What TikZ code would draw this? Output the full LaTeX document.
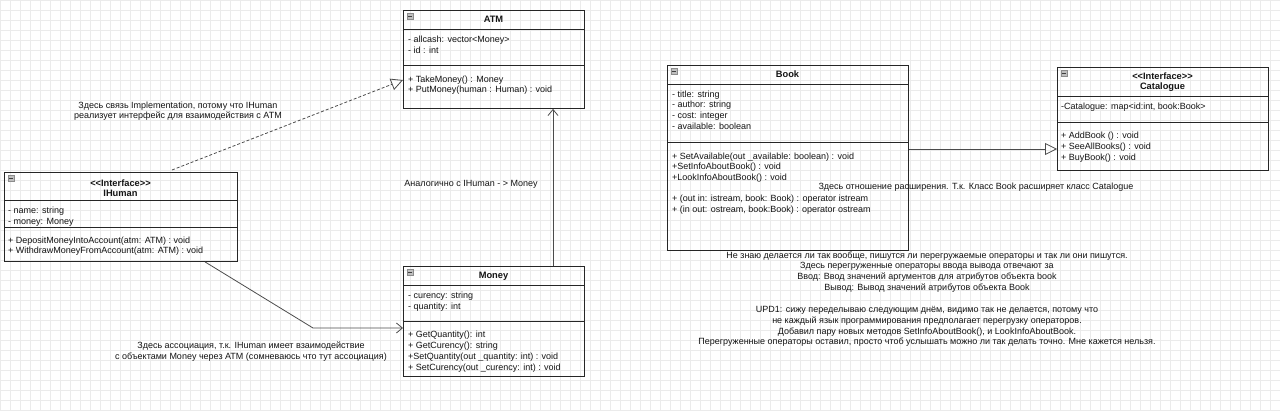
\documentclass[tikz,border=0pt]{standalone}
\usepackage{fontspec}
\setmainfont{Liberation Sans}
\usetikzlibrary{calc,arrows.meta}
\begin{document}
\begin{tikzpicture}[x=1pt,y=-1pt,
  every node/.style={font=\fontsize{9pt}{10.5pt}\selectfont, text=black!92},
  box/.style={draw=black!85, line width=0.9pt, inner sep=0pt, anchor=north west},
  sepline/.style={draw=black!85, line width=0.9pt},
  txt/.style={anchor=base west, inner sep=0pt},
  ttl/.style={anchor=base, inner sep=0pt, font=\fontsize{9.3pt}{10.5pt}\selectfont\bfseries},
  note/.style={anchor=base, inner sep=0pt},
  conn/.style={draw=black!70, line width=0.8pt},
  tri/.style={-{Triangle[open,length=12pt,width=12pt]}},
  barb/.style={-{Straight Barb[length=6pt,width=10pt]}},
]
\useasboundingbox (0,0) rectangle (1280,411);
\fill[white] (0,0) rectangle (1280,411);
\draw[black!8, line width=0.5pt] (0,0) grid[step=10pt] (1280,411);

\newcommand\umlbox[7]{%
  \node[box, minimum width=#4pt, minimum height=#5pt] (#1) at (#2,#3) {};
  \draw[sepline] ($(#1.north west)+(0,#6)$) -- ($(#1.north east)+(0,#6)$);
  \draw[sepline] ($(#1.north west)+(0,#7)$) -- ($(#1.north east)+(0,#7)$);
  \draw[fill=black!25, draw=black!45, line width=0.4pt] ($(#1.north west)+(4,3.5)$) rectangle ($(#1.north west)+(10,9.5)$);
  \draw[black!75, line width=0.7pt] ($(#1.north west)+(5,6.5)$) -- ($(#1.north west)+(9,6.5)$);
}

% IHuman
\umlbox{ihuman}{4}{172}{233}{89}{28}{55}
\node[ttl] (ih1) at (120.5,186.5) {<{}<Interface>{}>};
\node[ttl] (ih2) at (120.5,196.5) {IHuman};
\node[txt] (ih3) at (8,214) {- name: string};
\node[txt] (ih4) at (8,224.5) {- money: Money};
\node[txt] (ih5) at (8,243.5) {+ DepositMoneyIntoAccount(atm: ATM) : void};
\node[txt] (ih6) at (8,254) {+ WithdrawMoneyFromAccount(atm: ATM) : void};

% ATM
\umlbox{atm}{403}{10}{181}{98}{19}{55}
\node[ttl] (a1) at (493.5,23) {ATM};
\node[txt] (a2) at (408,43) {- allcash: vector<Money>};
\node[txt] (a3) at (408,53.5) {- id : int};
\node[txt] (a4) at (408,82.5) {+ TakeMoney() : Money};
\node[txt] (a5) at (408,93) {+ PutMoney(human : Human) : void};

% Money
\umlbox{money}{403}{266}{181}{110}{19}{55}
\node[ttl] (m1) at (493.5,279) {Money};
\node[txt] (m2) at (408,298.5) {- curency: string};
\node[txt] (m3) at (408,309.5) {- quantity: int};
\node[txt] (m4) at (408,337.5) {+ GetQuantity(): int};
\node[txt] (m5) at (408,348.5) {+ GetCurency(): string};
\node[txt] (m6) at (408,360) {+SetQuantity(out \_quantity: int) : void};
\node[txt] (m7) at (408,371) {+ SetCurency(out \_curency: int) : void};

% Book
\umlbox{book}{667}{65}{241}{185}{19}{77}
\node[ttl] (b1) at (787.5,78) {Book};
\node[txt] (b2) at (672,97.5) {- title: string};
\node[txt] (b3) at (672,108) {- author: string};
\node[txt] (b4) at (672,119) {- cost: integer};
\node[txt] (b5) at (672,130) {- available: boolean};
\node[txt] (b6) at (672,159.5) {+ SetAvailable(out \_available: boolean) : void};
\node[txt] (b7) at (672,170) {+SetInfoAboutBook() : void};
\node[txt] (b8) at (672,181) {+LookInfoAboutBook() : void};
\node[txt] (b9) at (672,202) {+ (out in: istream, book: Book) : operator istream};
\node[txt] (b10) at (672,212.5) {+ (in out: ostream, book:Book) : operator ostream};

% Catalogue
\umlbox{catalogue}{1057}{67}{211}{103}{29}{55}
\node[ttl] (c1) at (1162.5,79.5) {<{}<Interface>{}>};
\node[ttl] (c2) at (1162.5,90) {Catalogue};
\node[txt] (c3) at (1061,110) {-Catalogue: map<id:int, book:Book>};
\node[txt] (c4) at (1061,138.5) {+ AddBook () : void};
\node[txt] (c5) at (1061,149.5) {+ SeeAllBooks() : void};
\node[txt] (c6) at (1061,161) {+ BuyBook() : void};

% labels
\node[note] (l1) at (178,108.5) {Здесь связь Implementation, потому что IHuman};
\node[note] (l2) at (178,118.5) {реализует интерфейс для взаимодействия с ATM};
\node[note] (l3) at (471,186.5) {Аналогично с IHuman - > Money};
\node[note] (l4) at (251,348.5) {Здесь ассоциация, т.к. IHuman имеет взаимодействие};
\node[note] (l5) at (251,359.5) {с объектами Money через ATM (сомневаюсь что тут ассоциация)};
\node[note] (l6) at (976,189.5) {Здесь отношение расширения. Т.к. Класс Book расширяет класс Catalogue};
\node[note] (n1) at (927,258.5) {Не знаю делается ли так вообще, пишутся ли перегружаемые операторы и так ли они пишутся.};
\node[note] (n2) at (927,269) {Здесь перегруженные операторы ввода вывода отвечают за};
\node[note] (n3) at (927,279.5) {Ввод: Ввод значений аргументов для атрибутов объекта book};
\node[note] (n4) at (927,291) {Вывод: Вывод значений атрибутов объекта Book};
\node[note] (n5) at (927,313) {UPD1: сижу переделываю следующим днём, видимо так не делается, потому что};
\node[note] (n6) at (927,323.5) {не каждый язык программирования предполагает перегрузку операторов.};
\node[note] (n7) at (927,334.5) {Добавил пару новых методов SetInfoAboutBook(), и LookInfoAboutBook.};
\node[note] (n8) at (927,345) {Перегруженные операторы оставил, просто чтоб услышать можно ли так делать точно. Мне кажется нельзя.};

% connectors
\draw[conn, tri, dash pattern=on 3pt off 2pt] ($(ihuman.north west)+(168,-2)$) -- ($(atm.north west)+(0,70)$);
\draw[conn, barb] ($(ihuman.south west)+(201,0)$) -- (313,328) -- ($(money.north west)+(0,62)$);
\draw[conn, barb] ($(money.north west)+(150,0)$) -- ($(atm.south west)+(150,0)$);
\draw[conn, tri] ($(book.north east)+(0,84)$) -- ($(catalogue.north west)+(0,82)$);
\end{tikzpicture}
\end{document}
